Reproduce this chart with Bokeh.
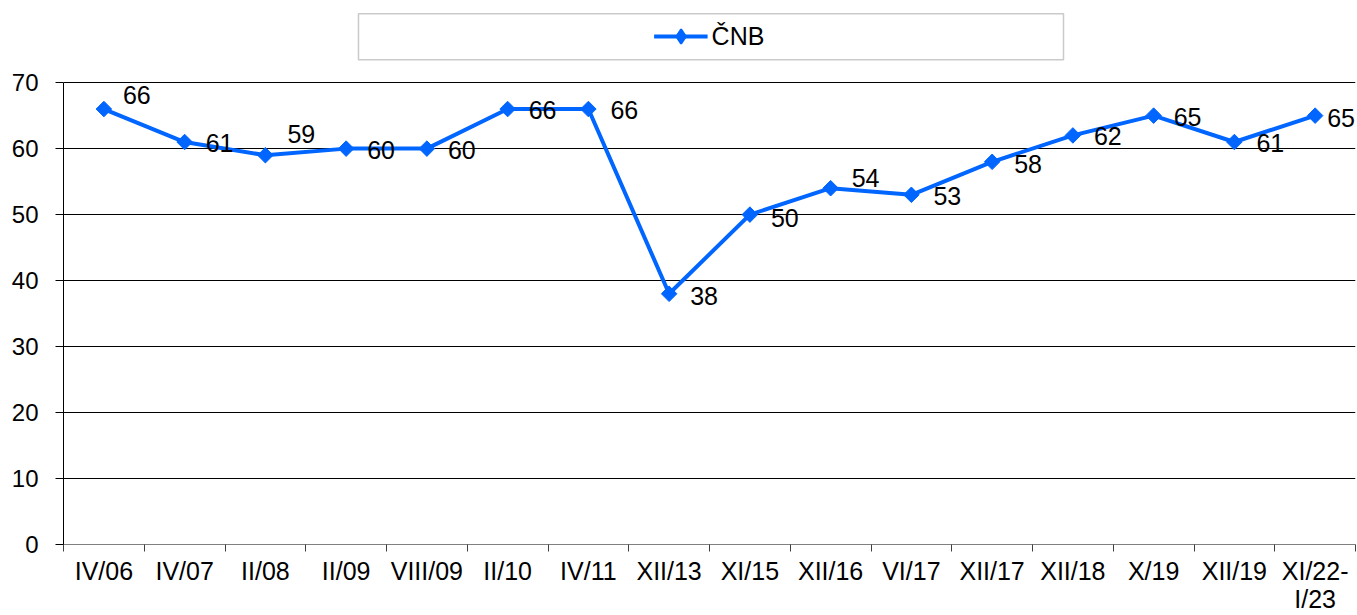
import numpy as np
from bokeh.plotting import figure
from bokeh.models import (ColumnDataSource, Range1d, FixedTicker, Legend,
                          LegendItem, BoxAnnotation)
from bokeh.embed import file_html
from bokeh.resources import INLINE
from bokeh.core.properties import value

# ---- data ----
categories = ["IV/06", "IV/07", "II/08", "II/09", "VIII/09", "II/10", "IV/11",
              "XII/13", "XI/15", "XII/16", "VI/17", "XII/17", "XII/18", "X/19",
              "XII/19", "XI/22-\nI/23"]
values = [66, 61, 59, 60, 60, 66, 66, 38, 50, 54, 53, 58, 62, 65, 61, 65]
series_name = "ČNB"
y_ticks = [0, 10, 20, 30, 40, 50, 60, 70]

# ---- label placement (screen pixel offsets, style only) ----
label_dx = [19, 21, 22, 21, 21, 21, 22, 21, 21, 21, 22, 22, 21, 20, 22, 12]
label_dy = [-14, 1, -21, 1, 1, 1, 1, 2, 3, -10, 1, 2, 1, 1, 1, 2]

BLUE = "#0066ff"
FONT = "Liberation Sans"

n = len(categories)
xs = np.arange(n) + 0.5

src = ColumnDataSource(dict(x=xs, y=values, label=[str(v) for v in values],
                            dx=label_dx, dy=label_dy))

p = figure(width=1357, height=615, output_backend="svg", toolbar_location=None,
           x_range=Range1d(0, n), y_range=Range1d(0, 82.45),
           min_border_left=63, min_border_right=2, min_border_top=0,
           min_border_bottom=0)
p.outline_line_color = None
p.background_fill_color = "white"
p.border_fill_color = "white"

# y axis
yt = FixedTicker(ticks=y_ticks)
p.yaxis.ticker = yt
p.ygrid.ticker = yt
p.ygrid.grid_line_color = "black"
p.ygrid.grid_line_width = 1
p.xgrid.visible = False
p.yaxis.bounds = (0, 70)
p.yaxis.axis_line_color = "black"
p.yaxis.major_tick_out = 8
p.yaxis.major_tick_in = 0
p.yaxis.minor_tick_line_color = None
p.yaxis.major_tick_line_color = "black"
p.yaxis.major_label_standoff = 17
p.yaxis.major_label_text_font = FONT
p.yaxis.major_label_text_font_size = "24px"
p.yaxis.major_label_text_color = "black"

# x axis: labels at category centres, tick marks at boundaries
xt = FixedTicker(ticks=list(xs), minor_ticks=list(range(n + 1)))
p.xaxis.ticker = xt
p.xaxis.major_label_overrides = {float(x): c for x, c in zip(xs, categories)}
p.xaxis.axis_line_color = "#808080"
p.xaxis.major_tick_line_color = None
p.xaxis.major_tick_out = 7
p.xaxis.major_tick_in = 0
p.xaxis.minor_tick_out = 7
p.xaxis.minor_tick_in = 0
p.xaxis.minor_tick_line_color = "#404040"
p.xaxis.major_label_standoff = 5
p.xaxis.major_label_text_font = FONT
p.xaxis.major_label_text_font_size = "25px"
p.xaxis.major_label_text_line_height = 1.0
p.xaxis.major_label_text_color = "black"

# series
ln = p.line("x", "y", source=src, line_color=BLUE, line_width=4)
mk = p.scatter("x", "y", source=src, marker="square", angle=np.pi / 4, size=11,
               fill_color=BLUE, line_color=BLUE)
p.text("x", "y", text="label", source=src, x_offset="dx", y_offset="dy",
       text_font=value(FONT), text_font_size="25px", text_baseline="middle",
       text_align="left", text_color="black")

# legend-only glyph (diamond), not drawn in the plot area
leg_mk = p.scatter("x", "y", source=src, marker="diamond", size=12,
                   fill_color=BLUE, line_color=BLUE, line_width=2, visible=False)

# legend frame + legend
box = BoxAnnotation(left=3.653, right=12.384, bottom=73.48, top=80.45,
                    fill_color=None, line_color="#505050", line_width=1.5)
p.add_layout(box)
legend = Legend(items=[LegendItem(label=series_name, renderers=[ln, leg_mk])],
                location="top_center", orientation="horizontal",
                border_line_color=None, background_fill_alpha=0,
                glyph_width=54, glyph_height=36, label_standoff=4,
                padding=5, margin=18, label_text_font=FONT,
                label_text_font_size="25px", label_text_color="black")
p.add_layout(legend)

open("out.html", "w").write(file_html(p, INLINE))
